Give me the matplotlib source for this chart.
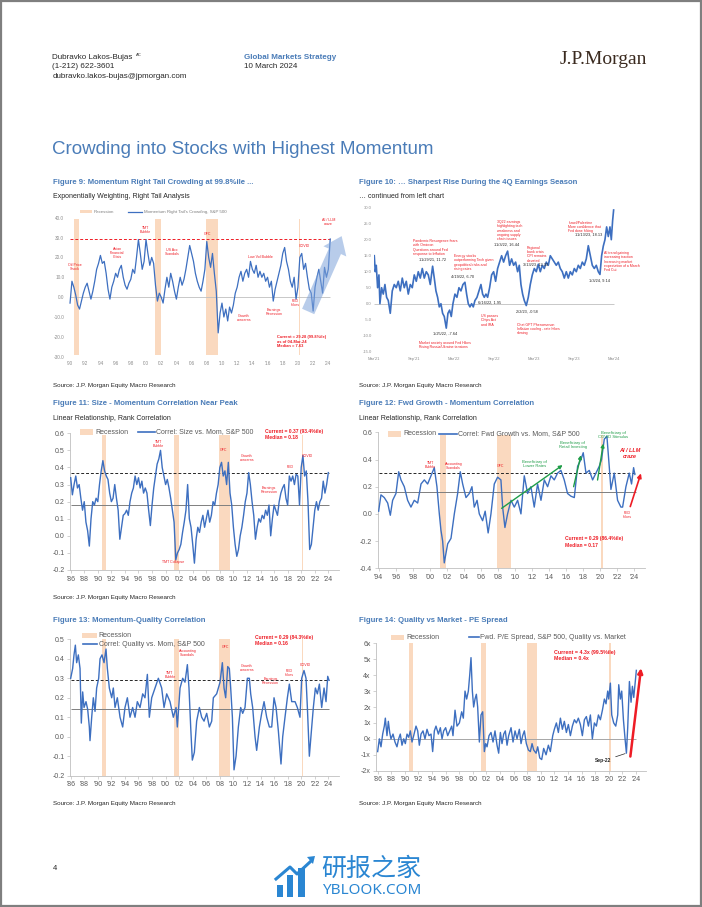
#!/usr/bin/env python3
import numpy as np
import matplotlib
matplotlib.use("Agg")
import matplotlib.pyplot as plt
from matplotlib.patches import Rectangle, Polygon
from matplotlib.lines import Line2D
from matplotlib.ticker import FormatStrFormatter

W, H = 702, 907
plt.rcParams['font.family'] = ['Liberation Sans', 'DejaVu Sans']

BLUE = '#3d6fc0'
PEACH = '#fad9bf'
RED = '#ee1c25'
GREEN = '#1f9d48'
TITLE = '#4a7cb8'
TXT = '#262626'
TICK = '#595959'

RECESSIONS = [(1990.58, 1991.17), (2001.17, 2001.92), (2007.92, 2009.5), (2020.08, 2020.33)]

# === Figure 9: momentum right tail crowding (quarterly, from 1990Q1) ===
F9_START = 1990.0
F9_VALUES = [
    -3, 8, 5, 1,   -4, -6, -2, 2,   5, 7, 3, -1,   3, 8, 14, 17,
    21, 17, 18, 12,   4, -1, 5, 8,   12, 10, 14, 16,   10, 6, 4, 7,
    9, 14, 12, 20,   29, 22, 14, 18,   29, 22, 16, 20,   17, 6, -2, 2,
    0, -3, 4, 10,   5, 12, 8, 3,   -1, 5, 10, 6,   9, 14, 20, 26,
    22, 18, 12, 8,   5, 3, 8, 14,   28, 20, 15, 22,   12, 3, -18, -8,
    -3, -10, -6, -12,   -5, -8, -4, 2,   5, 10, 13, 8,   12, 14, 10, 18,
    14, 12, 16, 10,   13, 10, 12, 8,   10, 5, 8, -2,   4, 8, 12, 16,
    22, 25, 18, 14,   8, 5, 10, -1,   5, 20, 22, 14,   17, 10, 4, 2,
    -7, 5, 10, 14,   8, 2, 15, 10,   14, 29.28]
F9_CURRENT = 29.28

# === Figure 10: same series since Mar'21 (months after Mar'21) ===
F10_MONTHS = [
    0.0, 0.15, 0.3, 0.5, 0.7, 0.85, 1.1, 1.35, 1.6, 1.85,
    2.1, 2.4, 2.7, 3.0, 3.3, 3.6, 3.9, 4.2, 4.5, 4.8,
    5.1, 5.4, 5.7, 6.0, 6.3, 6.6, 6.9, 7.2, 7.5, 7.8,
    8.1, 8.4, 8.75, 9.0, 9.25, 9.5, 9.75, 10.0, 10.25, 10.5,
    10.8, 11.05, 11.3, 11.55, 11.8, 12.1, 12.4, 12.7, 13.0, 13.3,
    13.6, 13.85, 14.1, 14.35, 14.6, 14.85, 15.1, 15.4, 15.7, 16.0,
    16.25, 16.5, 16.75, 17.0, 17.3, 17.6, 17.9, 18.2, 18.5, 18.8,
    19.1, 19.4, 19.7, 20.0, 20.3, 20.6, 20.9, 21.2, 21.5, 21.75,
    22.0, 22.25, 22.5, 22.8, 23.1, 23.4, 23.7, 24.0, 24.3, 24.6,
    24.9, 25.2, 25.5, 25.8, 26.1, 26.4, 26.7, 27.0, 27.3, 27.6,
    27.9, 28.2, 28.5, 28.8, 29.1, 29.4, 29.7, 30.0, 30.3, 30.6,
    30.9, 31.2, 31.5, 31.8, 32.1, 32.4, 32.7, 33.0, 33.3, 33.6,
    33.85, 34.1, 34.35, 34.6, 34.85, 35.1, 35.35, 35.55, 35.75, 35.9]
F10_VALUES = [
    15, 10, 12, 5, 9, 0, 5, 3, 6, 2,
    1, -3, 4, 6, 5, 7, 4, 8, 5, 7,
    3, 6, 5, 9, 7, 10, 8, 11, 8, 10,
    9, 6, 11.72, 8, 4, 2, -1, 0, -3, -4,
    -7.64, -3, -2, -4, 0, 3, 2, 5, 4, 6,
    6.70, 3, 0, -1, 0, -1, 1, 1.95, 4, 6,
    3, 2, 3, 2, 5, 9, 10, 7, 11, 13,
    15, 13, 15, 16.44, 12, 14, 12, 13, 10, 12,
    6, 3, 1, -0.58, 2, 6, 9, 11, 10, 12.33,
    10, 12, 11, 13, 12, 15, 14, 13, 12, 13,
    11, 10, 8, 10, 8, 10, 9, 11, 10, 12,
    11, 13, 12, 14, 18.13, 15, 12, 11, 12, 10,
    9.14, 15, 18, 20, 24, 21, 24, 20, 26, 29.28]
F10_TICK_LABELS = ["Mar'21", "Sep'21", "Mar'22", "Sep'22", "Mar'23", "Sep'23", "Mar'24"]

# === Figure 11: size vs momentum correlation (quarterly, from 1986Q1) ===
F11_START = 1986.0
F11_VALUES = [
    0.34, 0.24, 0.30, 0.35,   0.28, 0.30, 0.22, 0.15,   0.20, 0.08, 0.03, -0.06,
    0.10, 0.20, 0.18, 0.22,   0.20, 0.30, 0.38, 0.44,   0.38, 0.35, 0.33, 0.25,
    0.20, 0.22, 0.30, 0.22,   0.15, -0.02, 0.05, 0.12,   0.13, 0.15, 0.12, 0.20,
    0.25, 0.28, 0.35, 0.30,   0.34, 0.28, 0.32, 0.25,   0.28, 0.25, 0.15, 0.06,
    0.18, 0.28, 0.35, 0.42,   0.45, 0.50, 0.40, 0.35,   0.30, 0.33, 0.28, 0.22,
    0.15, 0.08, -0.14, -0.10,   -0.08, -0.05, 0.02, 0.08,   0.15, 0.30, 0.10, 0.05,
    -0.05, -0.16, -0.02, 0.05,   0.02, 0.08, 0.12, 0.05,   0.10, 0.15, 0.08, 0.12,
    0.20, 0.18, 0.25, 0.30,   0.40, 0.43, 0.35, 0.38,   0.30, 0.43, 0.25, 0.18,
    0.05, -0.05, -0.12, -0.08,   0.00, 0.05, 0.12, 0.20,   0.25, 0.37, 0.30, 0.20,
    0.12, -0.02, 0.05, 0.10,   0.08, 0.12, 0.10, 0.15,   0.12, 0.18, 0.00, 0.10,
    0.18, 0.15, 0.12, 0.20,   0.25, 0.28, 0.30, 0.22,   0.18, 0.35, 0.32, 0.35,
    0.30, 0.36, 0.35, 0.18,   0.40, 0.47, 0.35, 0.38,   0.20, -0.08, -0.05, 0.05,
    0.15, 0.20, 0.15, 0.20,   0.22, 0.32, 0.25, 0.30,   0.37]
F11_CURRENT, F11_MEDIAN = 0.37, 0.18

# === Figure 12: fwd growth vs momentum correlation ===
F12_YEARS = [
    1994.00, 1994.27, 1994.66, 1995.06, 1995.37, 1995.64, 1996.03, 1996.35, 1996.62, 1997.01,
    1997.40, 1997.79, 1998.18, 1998.58, 1998.97, 1999.36, 1999.75, 2000.14, 2000.53, 2000.84,
    2001.12, 2001.31, 2001.51, 2001.70, 2002.10, 2002.49, 2002.88, 2003.27, 2003.58, 2003.86,
    2004.25, 2004.64, 2004.95, 2005.22, 2005.55, 2005.81, 2006.20, 2006.50, 2006.85, 2007.18,
    2007.57, 2007.96, 2008.35, 2008.55, 2008.82, 2009.13, 2009.53, 2009.92, 2010.31, 2010.70,
    2011.09, 2011.48, 2011.87, 2012.26, 2012.65, 2013.05, 2013.44, 2013.83, 2014.22, 2014.61,
    2015.00, 2015.39, 2015.78, 2016.17, 2016.57, 2016.96, 2017.35, 2017.74, 2018.01, 2018.33,
    2018.72, 2019.11, 2019.50, 2019.89, 2020.16, 2020.48, 2020.79, 2021.06, 2021.26, 2021.65,
    2022.04, 2022.43, 2022.63, 2023.02, 2023.41, 2023.68, 2023.92, 2024.07]
F12_VALUES = [
    0.02, 0.14, 0.12, 0.08, -0.01, 0.10, 0.15, 0.31, 0.25, 0.20,
    0.10, 0.05, 0.10, 0.08, 0.22, 0.25, 0.22, 0.28, 0.34, 0.20,
    0.00, -0.12, -0.20, -0.36, -0.22, -0.18, 0.00, 0.15, 0.31, 0.22,
    0.12, 0.15, 0.20, 0.05, 0.10, 0.00, -0.05, 0.02, -0.14, 0.00,
    0.22, 0.27, 0.25, 0.05, -0.10, 0.00, 0.10, 0.05, 0.10, 0.00,
    0.28, 0.15, 0.20, 0.05, 0.22, 0.10, 0.25, 0.20, 0.28, 0.25,
    0.30, 0.32, 0.25, 0.15, 0.13, 0.12, 0.35, 0.40, 0.45, 0.30,
    0.32, 0.25, 0.30, 0.35, 0.40, 0.55, 0.57, 0.35, 0.18, 0.30,
    0.10, 0.05, 0.05, 0.20, 0.30, 0.22, 0.34, 0.29]
F12_CURRENT, F12_MEDIAN = 0.30, 0.16

# === Figure 13: quality vs momentum correlation ===
F13_YEARS = [
    1986.00, 1986.29, 1986.49, 1986.69, 1986.88, 1987.13, 1987.38, 1987.57, 1987.77, 1987.97,
    1988.26, 1988.51, 1988.75, 1988.85, 1989.10, 1989.34, 1989.59, 1989.83, 1990.13, 1990.33,
    1990.62, 1990.92, 1991.21, 1991.41, 1991.70, 1992.05, 1992.29, 1992.54, 1992.88, 1993.28,
    1993.67, 1994.01, 1994.36, 1994.75, 1995.14, 1995.49, 1995.83, 1996.23, 1996.62, 1996.96,
    1997.31, 1997.60, 1997.95, 1998.44, 1998.93, 1999.42, 1999.77, 2000.16, 2000.65, 2001.14,
    2001.54, 2001.73, 2002.13, 2002.52, 2002.86, 2003.21, 2003.45, 2003.70, 2003.94, 2004.24,
    2004.58, 2004.98, 2005.32, 2005.67, 2006.06, 2006.45, 2006.80, 2007.04, 2007.53, 2008.03,
    2008.37, 2008.62, 2008.86, 2009.16, 2009.40, 2009.60, 2009.85, 2010.09, 2010.39, 2010.73,
    2011.07, 2011.37, 2011.71, 2012.06, 2012.35, 2012.55, 2012.84, 2013.19, 2013.43, 2013.83,
    2014.17, 2014.52, 2014.91, 2015.30, 2015.65, 2015.99, 2016.29, 2016.63, 2017.02, 2017.27,
    2017.61, 2017.96, 2018.25, 2018.60, 2019.09, 2019.43, 2019.82, 2020.07, 2020.41, 2020.71,
    2020.91, 2021.20, 2021.55, 2021.79, 2022.09, 2022.38, 2022.68, 2023.02, 2023.37, 2023.66,
    2023.91, 2024.10]
F13_VALUES = [
    0.30, 0.35, 0.42, 0.47, 0.38, 0.42, 0.35, 0.07, 0.23, 0.15,
    0.18, 0.14, 0.05, -0.02, 0.10, 0.20, 0.13, 0.25, 0.30, 0.40,
    0.42, 0.38, 0.45, 0.35, 0.25, 0.20, 0.25, 0.15, 0.20, 0.10,
    0.05, 0.15, 0.20, 0.10, 0.15, 0.10, 0.18, 0.15, 0.22, 0.20,
    0.32, 0.10, 0.20, 0.25, 0.30, 0.25, 0.15, 0.22, 0.18, 0.10,
    0.15, 0.05, 0.25, 0.30, 0.28, 0.37, 0.25, 0.05, -0.12, -0.08,
    0.08, 0.15, 0.10, 0.08, 0.12, 0.05, 0.08, 0.20, 0.22, 0.28,
    0.38, 0.25, 0.20, 0.36, 0.35, 0.25, 0.10, -0.17, -0.10, 0.05,
    0.15, 0.12, 0.15, 0.30, 0.30, 0.22, 0.15, 0.00, -0.07, 0.05,
    0.12, 0.18, 0.10, 0.05, 0.05, 0.20, 0.15, 0.03, -0.14, 0.00,
    0.10, 0.20, 0.27, 0.18, 0.18, 0.15, 0.10, 0.30, 0.34, 0.30,
    0.15, -0.10, 0.05, 0.15, 0.25, 0.22, 0.27, 0.15, 0.25, 0.18,
    0.31, 0.29]
F13_CURRENT, F13_MEDIAN = 0.29, 0.14

# === Figure 14: quality vs market fwd P/E spread ===
F14_YEARS = [
    1986.00, 1986.25, 1986.49, 1986.74, 1986.98, 1987.13, 1987.37, 1987.57, 1987.77, 1987.96,
    1988.26, 1988.55, 1988.84, 1989.09, 1989.33, 1989.58, 1989.83, 1990.07, 1990.32, 1990.56,
    1990.81, 1991.05, 1991.30, 1991.64, 1991.89, 1992.13, 1992.38, 1992.67, 1992.96, 1993.26,
    1993.55, 1993.85, 1994.09, 1994.34, 1994.58, 1994.93, 1995.22, 1995.47, 1995.71, 1996.00,
    1996.30, 1996.59, 1996.89, 1997.08, 1997.38, 1997.67, 1998.02, 1998.36, 1998.60, 1998.85,
    1999.09, 1999.34, 1999.54, 1999.73, 1999.93, 2000.12, 2000.32, 2000.52, 2000.71, 2000.96,
    2001.20, 2001.45, 2001.69, 2001.89, 2002.09, 2002.38, 2002.67, 2002.97, 2003.26, 2003.56,
    2003.80, 2004.05, 2004.29, 2004.54, 2004.78, 2005.03, 2005.27, 2005.62, 2005.91, 2006.21,
    2006.50, 2006.84, 2007.09, 2007.33, 2007.58, 2007.87, 2008.17, 2008.46, 2008.71, 2008.95,
    2009.30, 2009.54, 2009.84, 2010.13, 2010.42, 2010.77, 2011.11, 2011.40, 2011.75, 2011.99,
    2012.29, 2012.58, 2012.88, 2013.17, 2013.46, 2013.76, 2014.05, 2014.35, 2014.64, 2014.94,
    2015.23, 2015.52, 2015.82, 2016.11, 2016.41, 2016.70, 2017.00, 2017.29, 2017.58, 2017.88,
    2018.17, 2018.47, 2018.76, 2019.06, 2019.35, 2019.59, 2019.84, 2019.99, 2020.23, 2020.43,
    2020.72, 2021.02, 2021.31, 2021.46, 2021.70, 2021.90, 2022.15, 2022.39, 2022.59, 2022.78,
    2023.03, 2023.27, 2023.47, 2023.67, 2024.05]
F14_VALUES = [
    -0.8, 0.0, -0.5, 0.3, 0.8, 1.3, 0.2, 1.1, 0.4, 0.0,
    0.3, -0.2, -0.5, 0.0, 0.3, -0.4, 0.0, -0.3, 0.3, 0.1,
    0.5, -0.2, 0.2, 0.8, 0.5, -0.4, 0.3, 0.5, 0.0, 0.6,
    0.2, 0.3, -0.8, 0.5, 0.8, 0.3, 0.7, 0.0, 0.5, 0.7,
    0.2, 0.5, 0.8, 0.2, 1.8, 0.8, 1.0, 1.7, 1.3, 3.0,
    2.5, 3.0, 4.0, 5.1, 3.0, 2.0, 2.5, 2.8, 2.0, -0.2,
    1.5, 1.7, -0.8, -0.3, -0.5, 0.2, 0.4, -0.2, 0.5, -0.4,
    -0.9, 0.4, -0.3, 0.3, 0.5, -0.4, 0.2, 0.7, -0.2, 0.5,
    0.0, 0.6, -0.3, 0.2, 0.5, -0.3, -0.7, -0.8, -0.3, -0.7,
    -0.9, -0.5, -1.2, -1.3, -0.6, -1.0, -0.4, -0.8, 0.2, 0.6,
    1.0, 0.4, 1.3, 0.6, 1.1, 0.4, 0.9, 0.2, 0.8, 1.2,
    1.0, 1.3, 0.9, 0.2, 1.2, 1.4, 0.8, 1.5, 0.0, 1.0,
    0.8, 1.5, 1.2, 1.8, 2.5, 2.2, 3.0, 2.5, 3.5, 1.5,
    1.0, 0.8, 1.5, 3.4, 2.5, 3.0, 1.2, 0.0, -0.9, 0.7,
    3.6, 2.3, 3.3, 2.6, 4.3]


fig = plt.figure(figsize=(W / 100, H / 100), dpi=100)
fig.patch.set_facecolor('white')


def px_axes(l, t, r, b):
    return fig.add_axes([l / W, 1 - b / H, (r - l) / W, (b - t) / H])


def ftext(x, y, s, **kw):
    kw.setdefault('va', 'center')
    kw.setdefault('color', TXT)
    return fig.text(x / W, 1 - y / H, s, **kw)


def leg_patch(x0, x1, y, h):
    fig.patches.append(Rectangle((x0 / W, 1 - (y + h / 2) / H), (x1 - x0) / W, h / H,
                                 transform=fig.transFigure, color=PEACH, lw=0))


def leg_line(x0, x1, y, lw=1.2):
    fig.lines.append(Line2D([x0 / W, x1 / W], [1 - y / H, 1 - y / H],
                            transform=fig.transFigure, color=BLUE, lw=lw))


def frame(ax, fs, color, spines, pad=2):
    ax.set_facecolor('none')
    for side in ['top', 'right']:
        ax.spines[side].set_visible(False)
    for side in ['left', 'bottom']:
        ax.spines[side].set_visible(spines)
        ax.spines[side].set_color('#bfbfbf')
        ax.spines[side].set_linewidth(0.6)
    ax.tick_params(labelsize=fs, labelcolor=color, color='#bfbfbf', width=0.5,
                   length=2 if spines else 0, pad=pad)


def year_ticks(ax, first, last):
    yrs = list(range(first, last + 1, 2))
    ax.set_xticks(yrs)
    ax.set_xticklabels(["'%02d" % (y % 100) for y in yrs])


def recessions(ax, top=1.0, bottom=0.0):
    for a, b in RECESSIONS:
        ax.axvspan(a, b, ymin=bottom, ymax=top, color=PEACH, lw=0, zorder=0)


def notes(ax, items, fs, color=RED, **kw):
    for x, y, s in items:
        ax.text(x, y, s, fontsize=fs, color=color, ha='center', va='center',
                linespacing=1.0, **kw)


# page frame
fig.patches.append(Rectangle((0.0015, 0.0015), 0.997, 0.997, transform=fig.transFigure,
                             fill=False, edgecolor='#7f7f7f', lw=1.6))

# ---- header ----
ftext(52.5, 57.5, 'Dubravko Lakos-Bujas', fontsize=5.8)
ftext(136, 55.5, 'AC', fontsize=3.0)
ftext(52.5, 67, '(1-212) 622-3601', fontsize=5.8)
ftext(52.5, 76.5, 'dubravko.lakos-bujas@jpmorgan.com', fontsize=5.8)
ftext(243.5, 57.5, 'Global Markets Strategy', fontsize=5.8, weight='bold', color=TITLE)
ftext(243.5, 67, '10 March 2024', fontsize=5.8)
ftext(560, 60, 'J.P.Morgan', fontsize=14, family='Liberation Serif', color='#3a2a1f')
ftext(52, 150, 'Crowding into Stocks with Highest Momentum', fontsize=13.5, color=TITLE)

# ---- Figure 9 ----
ftext(53, 182.5, 'Figure 9: Momentum Right Tail Crowding at 99.8%ile ...', fontsize=5.6,
      weight='bold', color=TITLE)
ftext(53, 196, 'Exponentially Weighting, Right Tail Analysis', fontsize=5.0)
ftext(53, 386, 'Source: J.P. Morgan Equity Macro Research', fontsize=4.5)

f9_years = F9_START + 0.25 * np.arange(len(F9_VALUES))
ax9 = px_axes(67.0, 215.7, 345.8, 358.7)
ax9.set_xlim(1989.6, 2026.3)
ax9.set_ylim(-31, 41)
recessions(ax9, 0.98, 0.025)
ax9.hlines(0, f9_years[0], f9_years[-1], colors='#bfbfbf', lw=0.6, zorder=1)
ax9.plot(f9_years, F9_VALUES, color=BLUE, lw=0.9, zorder=3)
ax9.hlines(F9_CURRENT, f9_years[0], f9_years[-1], colors=RED, linestyles=(0, (3, 2)),
           lw=0.7, zorder=2)
ax9.set_yticks(np.arange(-30, 41, 10))
ax9.yaxis.set_major_formatter(FormatStrFormatter('%.1f'))
year_ticks(ax9, 1990, 2024)
frame(ax9, 3.4, '#8c8c8c', False, pad=2)
notes(ax9, [(1990.66, 15.3, 'Oil Price\nShock'), (1996.2, 22, 'Asian\nFinancial\nCrisis'),
            (1999.96, 34, 'TMT\nBubble'), (2003.4, 22.8, 'US Acc\nScandals'),
            (2008.1, 31.7, 'GFC'), (2012.9, -10.7, 'Growth\nconcerns'),
            (2015.0, 20.3, 'Low Vol Bubble'), (2016.85, -7.4, 'Earnings\nRecession'),
            (2019.6, -3.2, 'FED\nHikes'), (2020.8, 25.7, 'COVID'),
            (2024.0, 38, 'AI / LLM\ncraze')], 2.6)
ax9.text(2017.3, -19.3, 'Current = 29.28 (99.8%ile)\nas of 04-Mar-24\nMedian = 7.63',
         fontsize=2.9, color=RED, weight='bold', ha='left', va='top', linespacing=1.15)
ax9.annotate('', xy=(2025.9, 32), xytext=(2021.2, -8.5), zorder=4,
             arrowprops=dict(arrowstyle='simple,head_width=1.5,head_length=1.0,tail_width=0.8',
                             mutation_scale=12, fc='#7ea3da', ec='none', alpha=0.55))
leg_patch(80, 92, 211.7, 3.5)
ftext(94, 211.7, 'Recession', fontsize=3.2, color='#7f7f7f')
leg_line(128, 142, 211.7, lw=0.9)
ftext(144, 211.7, "Momentum Right Tail's Crowding, S&P 500", fontsize=3.2, color='#7f7f7f')

# ---- Figure 10 ----
ftext(359, 182.5, 'Figure 10: \u2026 Sharpest Rise During the 4Q Earnings Season', fontsize=5.6,
      weight='bold', color=TITLE)
ftext(359, 196, '\u2026 continued from left chart', fontsize=5.0)
ftext(359, 386, 'Source: J.P. Morgan Equity Macro Research', fontsize=4.5)

ax10 = px_axes(373.6, 204.5, 644.3, 354.9)
ax10.set_xlim(-0.1, 40.5)
ax10.set_ylim(-16, 31)
ax10.hlines(0, F10_MONTHS[0], 36, colors='#bfbfbf', lw=0.6, zorder=1)
ax10.plot(F10_MONTHS, F10_VALUES, color=BLUE, lw=1.2, zorder=3)
ax10.set_yticks(np.arange(-15, 31, 5))
ax10.yaxis.set_major_formatter(FormatStrFormatter('%.1f'))
ax10.set_xticks(np.arange(0, 37, 6))
ax10.set_xticklabels(F10_TICK_LABELS)
frame(ax10, 3.0, '#8c8c8c', False, pad=1.2)
red10 = [
    (5.75, 20.2, 'Pandemic Resurgence fears\nwith Omicron\nQuestions around Fed\nresponse to Inflation'),
    (12.0, 15.5, 'Energy stocks\noutperforming Tech given\ngeopolitical risks and\nrising rates'),
    (6.75, -11.6, 'Market anxiety around Fed Hikes\nRising Russia/Ukraine tensions'),
    (16.0, -3.2, 'US passes\nChips Act\nand IRA'),
    (18.35, 26.1, '3Q22 earnings\nhighlighting tech\nweakness and\nongoing supply\nchain issues'),
    (22.85, 18.1, 'Regional\nbank crisis\nCPI remains\nelevated'),
    (21.35, -5.9, 'Chat GPT Phenomenon\nInflation cooling - rate hikes\nslowing'),
    (29.1, 25.9, 'Israel/Palestine\nMore confidence that\nFed done hiking'),
    (34.5, 16.5, 'AI trend gaining\nincreasing traction\nIncreasing market\nexpectation of a March\nFed Cut'),
]
for x, y, s in red10:
    ax10.text(x, y, s, fontsize=2.5, color=RED, ha='left', va='top', linespacing=1.1)
black10 = [(6.75, 13.9, '11/29/21, 11.72'), (11.5, 8.6, '4/19/22, 6.70'),
           (8.75, -9.3, '1/25/22, -7.64'), (15.6, 0.3, '6/16/22, 1.95'),
           (18.0, 18.6, '11/3/22, 16.44'), (22.25, 12.3, '3/13/23, 12.33'),
           (21.25, -2.3, '2/2/23, -0.58'), (30.1, 21.5, '11/13/23, 18.13'),
           (32.25, 7.1, '1/3/24, 9.14')]
for x, y, s in black10:
    ax10.text(x, y, s, fontsize=2.8, color=TXT, ha='left', va='center')

# ---- Figure 11 ----
ftext(53, 404, 'Figure 11: Size - Momentum Correlation Near Peak', fontsize=5.6,
      weight='bold', color=TITLE)
ftext(53, 418, 'Linear Relationship, Rank Correlation', fontsize=5.0)
ftext(53, 597, 'Source: J.P. Morgan Equity Macro Research', fontsize=4.5)

f11_years = F11_START + 0.25 * np.arange(len(F11_VALUES))
ax11 = px_axes(70.0, 433.3, 338.5, 570.0)
ax11.set_xlim(1985.9, 2025.5)
ax11.set_ylim(-0.2, 0.6)
recessions(ax11, 0.985)
ax11.hlines(F11_MEDIAN, f11_years[0], f11_years[-1] + 0.1, colors='#7f7f7f', lw=0.7, zorder=1)
ax11.hlines(F11_CURRENT, f11_years[0], f11_years[-1] + 0.1, colors=TXT,
            linestyles=(0, (3, 2)), lw=0.7, zorder=2)
ax11.plot(f11_years, F11_VALUES, color=BLUE, lw=1.0, zorder=3)
ax11.set_yticks(np.arange(-0.2, 0.61, 0.1))
ax11.yaxis.set_major_formatter(FormatStrFormatter('%.1f'))
year_ticks(ax11, 1986, 2024)
frame(ax11, 5.0, TICK, True)
notes(ax11, [(1998.93, 0.537, 'TMT\nBubble'), (2008.6, 0.50, 'GFC'),
             (2012.0, 0.457, 'Growth\nconcerns'), (2020.9, 0.47, 'COVID'),
             (2018.35, 0.40, 'FED'), (2015.3, 0.268, 'Earnings\nRecession'),
             (2001.15, -0.156, 'TMT Collapse')], 2.6)
ax11.text(2014.66, 0.625, 'Current = 0.37 (93.4%ile)\nMedian = 0.18', fontsize=3.6,
          color=RED, weight='bold', ha='left', va='top', linespacing=1.3)
leg_patch(80, 93, 432, 5.5)
ftext(95, 432, 'Recession', fontsize=5.0, color=TICK)
leg_line(138, 155, 432)
ftext(155.5, 432, 'Correl: Size vs. Mom, S&P 500', fontsize=5.0, color=TICK)

# ---- Figure 12 ----
ftext(359, 404, 'Figure 12: Fwd Growth - Momentum Correlation', fontsize=5.6,
      weight='bold', color=TITLE)
ftext(359, 418, 'Linear Relationship, Rank Correlation', fontsize=5.0)

ax12 = px_axes(377.8, 432.3, 644.5, 568.3)
ax12.set_xlim(1993.9, 2025.2)
ax12.set_ylim(-0.4, 0.6)
recessions(ax12, 0.98)
ax12.hlines(F12_MEDIAN, F12_YEARS[0], F12_YEARS[-1] + 0.1, colors='#7f7f7f', lw=0.7, zorder=1)
ax12.hlines(F12_CURRENT, F12_YEARS[0], F12_YEARS[-1] + 0.1, colors=TXT,
            linestyles=(0, (3, 2)), lw=0.7, zorder=2)
ax12.plot(F12_YEARS, F12_VALUES, color=BLUE, lw=1.0, zorder=3)
ax12.set_yticks(np.arange(-0.4, 0.61, 0.2))
ax12.yaxis.set_major_formatter(FormatStrFormatter('%.1f'))
year_ticks(ax12, 1994, 2024)
frame(ax12, 5.0, TICK, True)
notes(ax12, [(2000.06, 0.36, 'TMT\nBubble'), (2002.8, 0.35, 'Accounting\nScandals'),
             (2008.35, 0.35, 'GFC'), (2023.2, -0.007, 'FED\nHikes')], 2.6)
notes(ax12, [(2012.26, 0.365, 'Beneficiary of\nLower Rates'),
             (2016.76, 0.505, 'Beneficiary of\nRetail Investing'),
             (2021.53, 0.578, 'Beneficiary of\nCOVID Stimulus')], 3.0, color=GREEN)
ax12.text(2023.5, 0.444, 'AI / LLM\ncraze', fontsize=4.0, color=RED, weight='bold',
          style='italic', ha='center', va='center', linespacing=1.1)
for tail, head in [((2008.43, 0.041), (2015.59, 0.359)), ((2016.88, 0.20), (2017.74, 0.432)),
                   ((2019.69, 0.249), (2020.36, 0.517))]:
    ax12.annotate('', xy=head, xytext=tail, zorder=4,
                  arrowprops=dict(arrowstyle='-|>', color=GREEN, lw=1.0, mutation_scale=5,
                                  shrinkA=0, shrinkB=0))
ax12.annotate('', xy=(2024.78, 0.298), xytext=(2023.53, 0.054), zorder=4,
              arrowprops=dict(arrowstyle='-|>', color=RED, lw=1.2, mutation_scale=6,
                              shrinkA=0, shrinkB=0))
ax12.text(2015.86, -0.166, 'Current = 0.29 (86.4%ile)\nMedian = 0.17', fontsize=3.6,
          color=RED, weight='bold', ha='left', va='top', linespacing=1.3)
leg_patch(388, 401, 434, 5.5)
ftext(403, 434, 'Recession', fontsize=5.0, color=TICK)
leg_line(439, 457, 434)
ftext(457.5, 434, 'Correl: Fwd Growth vs. Mom, S&P 500', fontsize=5.0, color=TICK)

# ---- Figure 13 ----
ftext(53, 620, 'Figure 13: Momentum-Quality Correlation', fontsize=5.6,
      weight='bold', color=TITLE)
ftext(53, 803, 'Source: J.P. Morgan Equity Macro Research', fontsize=4.5)

ax13 = px_axes(70.0, 639.3, 338.5, 775.7)
ax13.set_xlim(1985.9, 2025.5)
ax13.set_ylim(-0.2, 0.5)
recessions(ax13, 1.0)
ax13.hlines(F13_MEDIAN, F13_YEARS[0], F13_YEARS[-1], colors='#7f7f7f', lw=0.7, zorder=1)
ax13.hlines(F13_CURRENT, F13_YEARS[0], F13_YEARS[-1], colors=TXT,
            linestyles=(0, (3, 2)), lw=0.7, zorder=2)
ax13.plot(F13_YEARS, F13_VALUES, color=BLUE, lw=1.0, zorder=3)
ax13.set_yticks(np.arange(-0.2, 0.51, 0.1))
ax13.yaxis.set_major_formatter(FormatStrFormatter('%.1f'))
year_ticks(ax13, 1986, 2024)
frame(ax13, 5.0, TICK, True)
notes(ax13, [(2000.65, 0.317, 'TMT\nBubble'), (2003.26, 0.428, 'Accounting\nScandals'),
             (2008.86, 0.459, 'GFC'), (2011.96, 0.351, 'Growth\nconcerns'),
             (2015.5, 0.284, 'Earnings\nRecession'), (2018.25, 0.329, 'FED\nHikes'),
             (2020.56, 0.366, 'COVID')], 2.6)
ax13.text(2013.19, 0.522, 'Current = 0.29 (84.3%ile)\nMedian = 0.16', fontsize=3.6,
          color=RED, weight='bold', ha='left', va='top', linespacing=1.3)
leg_patch(82, 97, 635.7, 5.5)
ftext(98.5, 635.7, 'Recession', fontsize=5.0, color=TICK)
leg_line(83, 97, 644.3)
ftext(98.5, 644.3, 'Correl: Quality vs. Mom, S&P 500', fontsize=5.0, color=TICK)

# ---- Figure 14 ----
ftext(359, 620, 'Figure 14: Quality vs Market - PE Spread', fontsize=5.6,
      weight='bold', color=TITLE)
ftext(359, 803, 'Source: J.P. Morgan Equity Macro Research', fontsize=4.5)

ax14 = px_axes(376.3, 643.3, 646.2, 770.7)
ax14.set_xlim(1985.8, 2025.5)
ax14.set_ylim(-2, 6)
recessions(ax14, 1.0)
ax14.hlines(0, F14_YEARS[0], F14_YEARS[-1], colors='#a6a6a6', lw=0.7, zorder=1)
ax14.plot(F14_YEARS, F14_VALUES, color=BLUE, lw=1.0, zorder=3)
ax14.set_yticks(np.arange(-2, 7, 1))
ax14.set_yticklabels(['%dx' % v for v in range(-2, 7)])
year_ticks(ax14, 1986, 2024)
frame(ax14, 5.0, TICK, True)
ax14.text(2012.0, 5.59, 'Current = 4.3x (99.5%ile)\nMedian = 0.4x', fontsize=3.8,
          color=RED, weight='bold', ha='left', va='top', linespacing=1.3)
late = [i for i, y in enumerate(F14_YEARS) if y > 2022]
i_low = min(late, key=lambda i: F14_VALUES[i])
ax14.annotate('Sep-22', xy=(F14_YEARS[i_low], F14_VALUES[i_low]), xytext=(2019.2, -1.38),
              fontsize=3.6, color=TXT, weight='bold', ha='center', va='center',
              arrowprops=dict(arrowstyle='-', lw=0.5, color=TXT, shrinkA=1, shrinkB=1))
ax14.annotate('', xy=(2024.74, 4.44), xytext=(2023.17, -1.11), zorder=4,
              arrowprops=dict(arrowstyle='-|>', color=RED, lw=1.8, mutation_scale=7,
                              shrinkA=0, shrinkB=0))
leg_patch(391, 404, 637.3, 5.5)
ftext(406, 637.3, 'Recession', fontsize=5.0, color=TICK)
leg_line(469, 479, 637.3)
ftext(479.5, 637.3, 'Fwd. P/E Spread, S&P 500, Quality vs. Market', fontsize=5.0, color=TICK)

# ---- footer ----
ftext(52.5, 869, '4', fontsize=5.5)
WM = '#2a86d2'
for x0, x1, top in [(277, 283, 885), (287, 293, 875), (298, 305, 868)]:
    fig.patches.append(Rectangle((x0 / W, 1 - 897 / H), (x1 - x0) / W, (897 - top) / H,
                                 transform=fig.transFigure, color=WM, lw=0))
zig = [(276, 879), (290, 867), (297, 874), (310, 862)]
fig.lines.append(Line2D([p[0] / W for p in zig], [1 - p[1] / H for p in zig],
                        transform=fig.transFigure, color=WM, lw=2.2))
fig.patches.append(Polygon([(307 / W, 1 - 857 / H), (315 / W, 1 - 856 / H), (313 / W, 1 - 864 / H)],
                           closed=True, transform=fig.transFigure, color=WM, lw=0))
ftext(321, 869, '研报之家', fontsize=18, color=WM, family=['Noto Sans CJK SC', 'DejaVu Sans'])
ftext(322, 891, 'YBLOOK.COM', fontsize=11, color=WM, family=['Noto Sans', 'DejaVu Sans'])

fig.savefig('out.png', dpi=100, facecolor='white')
